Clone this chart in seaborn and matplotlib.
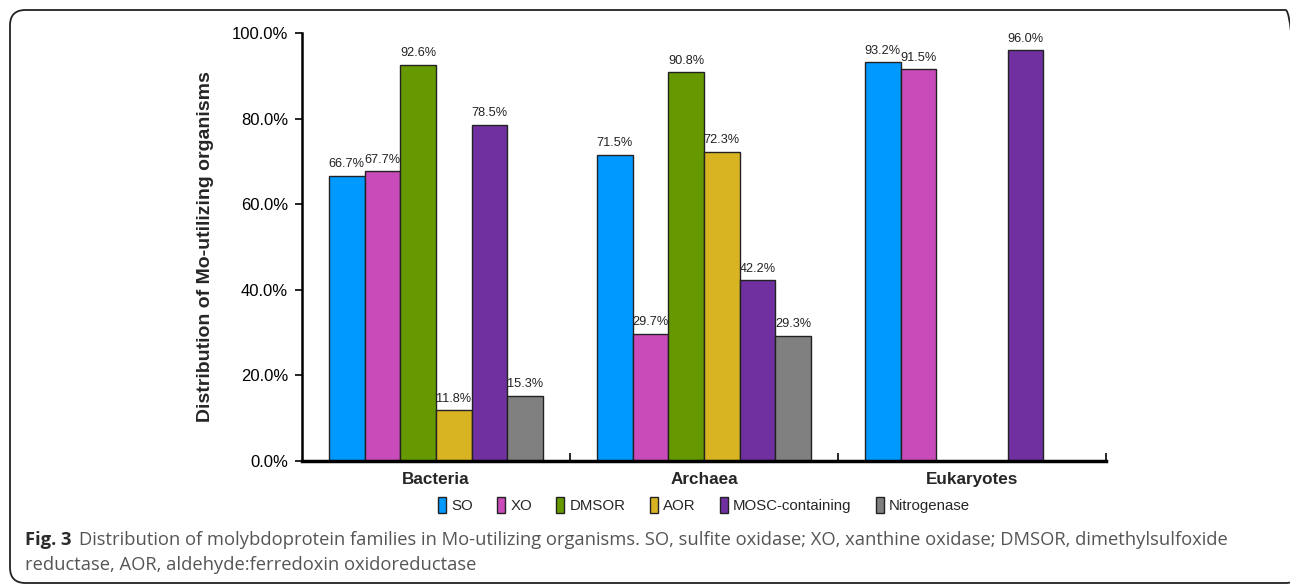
import matplotlib
matplotlib.use("Agg")
import matplotlib.pyplot as plt
from matplotlib.patches import FancyBboxPatch
from matplotlib.ticker import PercentFormatter, FixedLocator
import seaborn as sns
import pandas as pd

# Share of Mo-utilizing organisms (%) carrying each molybdoprotein family
domains = ["Bacteria", "Archaea", "Eukaryotes"]
families = ["SO", "XO", "DMSOR", "AOR", "MOSC-containing", "Nitrogenase"]
so = [66.7, 71.5, 93.2]
xo = [67.7, 29.7, 91.5]
dmsor = [92.6, 90.8, 0.0]
aor = [11.8, 72.3, 0.0]
mosc = [78.5, 42.2, 96.0]
nitrogenase = [15.3, 29.3, 0.0]
y_ticks = [0, 20, 40, 60, 80, 100]

colors = ["#0099FF", "#C94BB9", "#669900", "#D9B422", "#7030A0", "#808080"]

series = [so, xo, dmsor, aor, mosc, nitrogenase]
rows = []
for fam, vals in zip(families, series):
    for dom, v in zip(domains, vals):
        rows.append({"domain": dom, "family": fam, "value": v})
df = pd.DataFrame(rows)

sns.set_theme(style="white")
plt.rcParams["font.family"] = ["Liberation Sans", "DejaVu Sans"]

fig = plt.figure(figsize=(12.9, 5.84), dpi=100)
ax = fig.add_axes([302 / 1290, 1 - 461 / 584, (1106 - 302) / 1290, (461 - 33) / 584])

sns.barplot(data=df, x="domain", y="value", hue="family", order=domains,
            hue_order=families, palette=colors, width=0.8, edgecolor="#222222",
            linewidth=1.0, saturation=1, ax=ax, legend=True)

# value labels above non-zero bars
for cont in ax.containers:
    labels = [f"{b.get_height():.1f}%" if b.get_height() > 0 else "" for b in cont]
    ax.bar_label(cont, labels=labels, padding=4, fontsize=9.2, color="#222222")

ax.set_ylim(0, 100)
ax.set_xlim(-0.5, 2.5)
ax.yaxis.set_major_locator(FixedLocator(y_ticks))
ax.yaxis.set_major_formatter(PercentFormatter(decimals=1))
ax.tick_params(axis="y", direction="out", length=5, width=1.2, labelsize=12,
               colors="black", left=True, pad=5)
ax.tick_params(axis="x", which="major", length=0, labelsize=12.3, pad=8)
for lbl in ax.get_xticklabels():
    lbl.set_fontweight("bold")
ax.xaxis.set_minor_locator(FixedLocator([0.5, 1.5, 2.5]))
ax.tick_params(axis="x", which="minor", direction="in", length=6, width=1.2,
               bottom=True, color="black")

ax.set_xlabel("")
ax.set_ylabel("Distribution of Mo-utilizing organisms", fontsize=14,
              fontweight="bold", labelpad=13)
for side in ["top", "right"]:
    ax.spines[side].set_visible(False)
ax.spines["left"].set_color("black")
ax.spines["left"].set_linewidth(1.8)
ax.spines["bottom"].set_color("black")
ax.spines["bottom"].set_linewidth(2.5)

handles, lbls = ax.get_legend_handles_labels()
ax.legend(handles, lbls, loc="center", bbox_to_anchor=(0.5, 1 - (505 - 33) / (461 - 33)),
          ncol=6, frameon=False, fontsize=10.8, handlelength=0.55, handleheight=1.3,
          handletextpad=0.35, columnspacing=1.6)

# figure frame with rounded corners, running off the right edge
x0, y0 = 10 / 1290, 1 - 583 / 584
x1, y1 = 1301 / 1290, 1 - 10 / 584
frame = FancyBboxPatch((x0, y0), x1 - x0, y1 - y0,
                       boxstyle="round,pad=0,rounding_size=0.012",
                       transform=fig.transFigure, fill=False, edgecolor="#222222",
                       linewidth=1.3, mutation_aspect=1290 / 584)
fig.patches.append(frame)

cap_font = ["Open Sans", "DejaVu Sans"]
fig.text(25 / 1290, 1 - 540 / 584, "Fig. 3", fontsize=13.2, fontweight="bold",
         color="#2b2b2b", family=cap_font, va="center")
fig.text(79 / 1290, 1 - 540 / 584,
         "Distribution of molybdoprotein families in Mo-utilizing organisms. SO, sulfite oxidase; "
         "XO, xanthine oxidase; DMSOR, dimethylsulfoxide",
         fontsize=13.2, color="#555555", family=cap_font, va="center")
fig.text(25 / 1290, 1 - 565 / 584, "reductase, AOR, aldehyde:ferredoxin oxidoreductase",
         fontsize=13.2, color="#555555", family=cap_font, va="center")

fig.savefig("out.png", dpi=100)
